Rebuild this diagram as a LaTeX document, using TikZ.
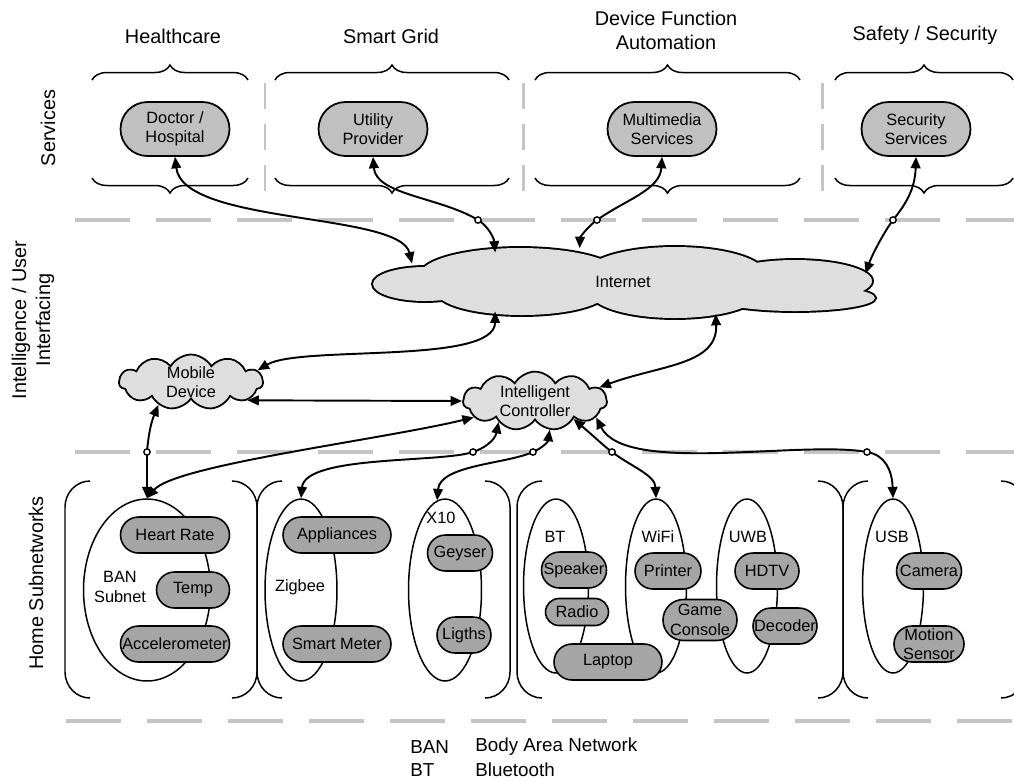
\documentclass[tikz,border=0pt]{standalone}
\usepackage{fontspec}
\setmainfont{Liberation Sans}
\usetikzlibrary{arrows.meta,shapes.misc,shapes.geometric,shapes.symbols,decorations.pathreplacing}
\definecolor{servgray}{RGB}{192,192,192}
\definecolor{devgray}{RGB}{165,165,165}
\definecolor{cloudgray}{RGB}{222,222,222}
\definecolor{sepgray}{RGB}{196,196,196}
\tikzset{
  layerline/.style={sepgray, line width=2.3pt, dash pattern=on 1.1cm off 0.52cm},
  colline/.style={sepgray, line width=1.7pt, dash pattern=on 0.52cm off 0.3cm},
  title/.style={font=\fontsize{11.3}{13.6}\selectfont, align=center},
  smalltext/.style={font=\fontsize{9.3}{11}\selectfont, align=center, inner sep=0pt},
  keytext/.style={font=\fontsize{10.7}{12.8}\selectfont, inner sep=0pt, anchor=west},
  servbox/.style={smalltext, rounded rectangle, draw, line width=1pt, fill=servgray, minimum width=2.18cm, minimum height=1.08cm},
  devbox/.style={smalltext, rounded rectangle, draw, line width=0.9pt, fill=devgray, minimum height=0.72cm},
  netcloud/.style={smalltext, cloud, draw, line width=1pt, fill=cloudgray, cloud ignores aspect, cloud puffs=11, cloud puff arc=120},
  subnet/.style={ellipse, draw, line width=0.85pt, inner sep=0pt},
  bracket/.style={line width=0.85pt},
  groupbrace/.style={decorate, decoration={brace, amplitude=0.3cm}, line width=0.85pt},
  conn/.style={<->, line width=1.1pt, >={Triangle[length=6.5pt,width=5.5pt]}},
  hop/.style={draw, fill=white, line width=0.8pt}
}
\begin{document}
\begin{tikzpicture}[x=0.02cm, y=-0.02cm]
\useasboundingbox (0,0) rectangle (1014,779);

\draw[layerline] (75,220) -- (1014,220);
\draw[layerline] (75,452) -- (1014,452);
\draw[layerline] (66,721) -- (1014,721);
\foreach \x in {265,523,822}
  \draw[colline] (\x,83) -- (\x,192);

\node[title, rotate=90] (lserv) at (48,128) {Services};
\node[title, rotate=90] (lintel) at (33,320) {Intelligence / User\\Interfacing};
\node[title, rotate=90] (lhome) at (36,583) {Home Subnetworks};

\node[title] (thealth) at (173,36) {Healthcare};
\node[title] (tgrid) at (391,36) {Smart Grid};
\node[title] (tauto) at (666,30) {Device Function\\Automation};
\node[title] (tsafe) at (925,35) {Safety / Security};

\foreach \a/\b in {92/248,275/509,535/800,835/1013} {
  \draw[groupbrace] (\a,80) -- (\b,80);
  \draw[groupbrace] (\b,178) -- (\a,178);
}

\node[servbox] (doc) at (175,129) {Doctor /\\Hospital};
\node[servbox] (util) at (373,129) {Utility\\Provider};
\node[servbox] (mm) at (662,129) {Multimedia\\Services};
\node[servbox] (sec) at (916,129) {Security\\Services};

\foreach \cx/\cy/\rx/\ry in {425/284/52/17,520/275/100/27,675/274/90/27,795/281/77/21,795/298/80/13,675/292/85/26,522/292/85/23,625/283/200/20}
  \draw[line width=2.2pt] (\cx,\cy) ellipse[x radius=\rx, y radius=\ry];
\foreach \cx/\cy/\rx/\ry in {425/284/52/17,520/275/100/27,675/274/90/27,795/281/77/21,795/298/80/13,675/292/85/26,522/292/85/23,625/283/200/20}
  \fill[cloudgray] (\cx,\cy) ellipse[x radius=\rx, y radius=\ry];
\node[smalltext, ellipse, minimum width=10cm, minimum height=1.36cm] (inet) at (623,282) {Internet};
\node[netcloud, minimum width=2.88cm, minimum height=1.1cm] (mob) at (191,382) {Mobile\\Device};
\node[netcloud, minimum width=2.88cm, minimum height=1.04cm] (ctrl) at (535,401) {Intelligent\\Controller};

\node[subnet, minimum width=2.54cm, minimum height=3.64cm] (ban) at (147,590) {};
\node[subnet, minimum width=1.44cm, minimum height=3.64cm] (zig) at (301,590) {};
\node[subnet, minimum width=1.46cm, minimum height=3.64cm] (x10) at (445,590) {};
\node[subnet, minimum width=1.3cm, minimum height=3.48cm] (bt) at (556,586) {};
\node[subnet, minimum width=1.22cm, minimum height=3.48cm] (wifi) at (656,586) {};
\node[subnet, minimum width=1.22cm, minimum height=3.48cm] (uwb) at (747,586) {};
\node[subnet, minimum width=1.22cm, minimum height=3.48cm] (usb) at (893,586) {};

\node[smalltext] (lban) at (120,587) {BAN\\Subnet};
\node[smalltext] (lzig) at (300,587) {Zigbee};
\node[smalltext] (lx10) at (441,518) {X10};
\node[smalltext] (lbt) at (555,537) {BT};
\node[smalltext] (lwifi) at (658,537) {WiFi};
\node[smalltext] (luwb) at (748,537) {UWB};
\node[smalltext] (lusb) at (892,537) {USB};

\foreach \x in {65,257,517,843}
  \draw[bracket] (\x+25,481) .. controls (\x+11,481) and (\x,493) .. (\x,507) -- (\x,672) .. controls (\x,686) and (\x+11,698) .. (\x+25,698);
\foreach \x in {257,510,843,1026}
  \draw[bracket] (\x-25,481) .. controls (\x-11,481) and (\x,493) .. (\x,507) -- (\x,672) .. controls (\x,686) and (\x-11,698) .. (\x-25,698);

\node[devbox, minimum width=2.18cm] (hr) at (175,535) {Heart Rate};
\node[devbox, minimum width=1.46cm] (temp) at (193,590) {Temp};
\node[devbox, minimum width=2.18cm] (acc) at (175,644) {Accelerometer};
\node[devbox, minimum width=2.16cm] (app) at (337,535) {Appliances};
\node[devbox, minimum width=2.16cm] (smt) at (337,644) {Smart Meter};
\node[devbox, minimum width=1.3cm] (gey) at (460,553) {Geyser};
\node[devbox, minimum width=1.08cm] (lig) at (464,635) {Ligths};
\node[devbox, minimum width=1.3cm] (spk) at (574,570) {Speaker};
\node[devbox, minimum width=1.26cm, minimum height=0.54cm] (rad) at (577,612) {Radio};
\node[devbox, minimum width=2.16cm] (lap) at (608,662) {Laptop};
\node[devbox, minimum width=1.32cm] (prn) at (668,571) {Printer};
\node[devbox, minimum width=1.36cm, minimum height=0.82cm] (gc) at (700,620) {Game\\Console};
\node[devbox, minimum width=1.28cm] (hdtv) at (767,571) {HDTV};
\node[devbox, minimum width=1.28cm] (dec) at (785,626) {Decoder};
\node[devbox, minimum width=1.3cm] (cam) at (929,571) {Camera};
\node[devbox, minimum width=1.3cm] (mot) at (929,644) {Motion\\Sensor};

\coordinate (jb) at (478,220);
\coordinate (jc) at (597,220);
\coordinate (jd) at (893,220);
\coordinate (jg) at (147,452);
\coordinate (jj) at (473,452);
\coordinate (jk) at (533,452);
\coordinate (jl) at (612,452);
\coordinate (jm) at (867,452);

\draw[conn] (doc.south) .. controls (183,225) and (400,212) .. (inet.175);
\draw[conn] (util.south) .. controls (376,195) and (440,197) .. (jb) .. controls (488,226) and (494,238) .. (inet.167);
\draw[conn] (mm.south) .. controls (660,190) and (625,200) .. (jc) .. controls (586,228) and (580,238) .. (inet.142);
\draw[conn] (sec.south) .. controls (915,190) and (905,205) .. (jd) .. controls (884,232) and (872,255) .. (inet.2);
\draw[conn] (inet.193) .. controls (495,365) and (300,345) .. (mob.10);
\draw[conn] (mob.-18) -- (ctrl.west);
\draw[conn] (mob.-145) .. controls (150,425) and (148,440) .. (jg) -- (ban.north);
\draw[conn] (ctrl.12) .. controls (660,365) and (718,365) .. (inet.-19);
\draw[conn] (ctrl.195) .. controls (380,440) and (175,465) .. (ban.north);
\draw[conn] (ctrl.-150) .. controls (495,440) and (485,448) .. (jj) .. controls (440,463) and (305,455) .. (zig.north);
\draw[conn] (ctrl.-63) .. controls (548,442) and (542,448) .. (jk) .. controls (506,464) and (440,465) .. (x10.95);
\draw[conn] (ctrl.-25) .. controls (598,440) and (604,446) .. (jl) .. controls (632,467) and (655,475) .. (wifi.north);
\draw[conn] (ctrl.-15) .. controls (625,475) and (800,440) .. (jm) .. controls (885,455) and (892,470) .. (usb.north);

\foreach \j in {jb,jc,jd,jg,jj,jk,jl,jm}
  \draw[hop] (\j) circle[radius=1.8pt];

\node[keytext] (kban) at (410,747) {BAN};
\node[keytext] (vban) at (475,747) {Body Area Network};
\node[keytext] (kbt) at (410,770) {BT};
\node[keytext] (vbt) at (475,770) {Bluetooth};
\end{tikzpicture}
\end{document}
